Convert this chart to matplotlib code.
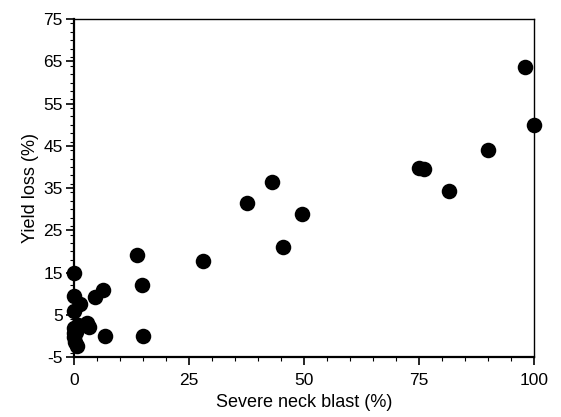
import matplotlib
matplotlib.use("Agg")
import matplotlib.pyplot as plt
from matplotlib.ticker import MultipleLocator

plt.rcParams['font.family'] = ['Liberation Sans', 'DejaVu Sans']
plt.rcParams['axes.unicode_minus'] = False

neck_blast = [98.0, 100.0, 90.0, 75.0, 76.0, 81.5, 43.0, 37.5, 49.5, 45.5, 28.0,
              13.6, 14.7, 14.9, 6.7, 6.2, 4.6, 0.0, 0.0, 1.3, 0.0, 2.9, 3.3,
              0.9, 0.0, 0.0, 0.6, 0.0, 0.3, 0.5]
yield_loss = [63.6, 50.0, 44.1, 39.8, 39.4, 34.3, 36.4, 31.5, 28.8, 21.0, 17.8,
              19.1, 12.0, -0.1, -0.1, 10.9, 9.1, 15.0, 9.4, 7.5, 6.0, 3.1, 2.0,
              2.6, 1.8, -0.2, -2.4, 0.6, -1.4, 1.0]

fig = plt.figure(figsize=(5.61, 4.17), dpi=100)
ax = fig.add_axes([0.132, 0.144, 0.820, 0.810])

ax.scatter(neck_blast, yield_loss, s=125, color='black', zorder=3, clip_on=False,
           linewidths=0)

ax.set_xlim(0, 100)
ax.set_ylim(-5, 75)
ax.set_xticks([0, 25, 50, 75, 100])
ax.set_yticks([-5, 5, 15, 25, 35, 45, 55, 65, 75])
ax.xaxis.set_minor_locator(MultipleLocator(5))
ax.yaxis.set_minor_locator(MultipleLocator(2))

ax.tick_params(axis='both', which='major', direction='out', length=6, width=1.2,
               labelsize=12.5, colors='black')
ax.tick_params(axis='both', which='minor', direction='out', length=3, width=0.8)
ax.tick_params(axis='x', pad=5.5)
ax.tick_params(axis='y', pad=2)

for side in ['left', 'bottom']:
    ax.spines[side].set_linewidth(1.6)
for side in ['top', 'right']:
    ax.spines[side].set_linewidth(1.0)

ax.set_xlabel('Severe neck blast (%)', fontsize=13, labelpad=4.5)
ax.set_ylabel('Yield loss (%)', fontsize=13, labelpad=3)

fig.savefig('out.png', dpi=100)
